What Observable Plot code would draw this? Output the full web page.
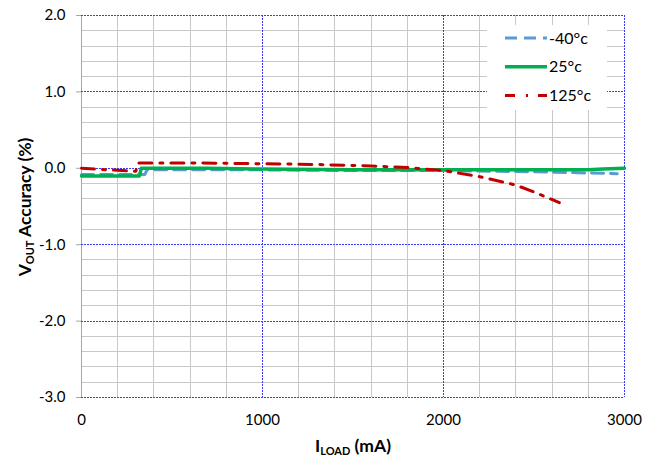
<!DOCTYPE html>
<html>
<head>
<meta charset="utf-8">
<script src="https://cdn.jsdelivr.net/npm/d3@7"></script>
<script src="https://cdn.jsdelivr.net/npm/@observablehq/plot@0.6"></script>
<style>
  html, body { margin: 0; padding: 0; background: #fff; }
  #chart { width: 652px; height: 459px; }
</style>
</head>
<body>
<div id="chart"></div>
<script>
// ---- data ----
const seriesNames = ["-40°c", "25°c", "125°c"];
const seriesColors = ["#5B9BD5", "#00B050", "#C00000"];
const xTicks = [0, 1000, 2000, 3000];
const yTicks = [-3, -2, -1, 0, 1, 2];

const m40Load = [0, 350, 362, 700, 1000, 1500, 2000, 2300, 2600, 2960];
const m40Acc  = [-0.08, -0.08, -0.02, -0.02, -0.02, -0.03, -0.03, -0.04, -0.05, -0.07];

const p25Load = [0, 320, 330, 700, 1000, 1500, 2000, 2500, 2800, 2880, 3000];
const p25Acc  = [-0.10, -0.10, 0.0, 0.0, -0.01, -0.02, -0.02, -0.02, -0.02, -0.01, 0.0];

const p125Load = [0, 150, 300, 312, 600, 1000, 1300, 1600, 1800, 2000, 2200, 2400, 2500, 2640];
const p125Acc  = [0.0, -0.02, -0.04, 0.07, 0.07, 0.06, 0.05, 0.03, 0.01, -0.03, -0.11, -0.22, -0.31, -0.45];

const toRows = (xs, ys, s) => xs.map((x, i) => ({x, y: ys[i], s}));
const rows40 = toRows(m40Load, m40Acc, seriesNames[0]);
const rows25 = toRows(p25Load, p25Acc, seriesNames[1]);
const rows125 = toRows(p125Load, p125Acc, seriesNames[2]);

// minor grid (excluding the major positions)
const minorX = d3.range(200, 3000, 200).filter(v => v % 1000 !== 0);
const minorY = d3.range(-3, 2.001, 0.2).map(v => +v.toFixed(1)).filter(v => !Number.isInteger(v));

const FONT = "Lato, 'Open Sans', sans-serif";

const chart = Plot.plot({
  width: 652,
  height: 459,
  marginLeft: 81,
  marginRight: 28,
  marginTop: 15,
  marginBottom: 62,
  style: { fontFamily: FONT, fontSize: "15px", color: "#000", background: "#fff" },
  x: { domain: [0, 3000], label: null },
  y: { domain: [-3, 2], label: null },
  marks: [
    Plot.ruleX(minorX, { stroke: "#c8c8c8", strokeWidth: 1, shapeRendering: "crispEdges" }),
    Plot.ruleY(minorY, { stroke: "#c8c8c8", strokeWidth: 1, shapeRendering: "crispEdges" }),
    Plot.ruleX([0], { stroke: "#a6a6a6", strokeWidth: 1, shapeRendering: "crispEdges" }),
    Plot.ruleX(xTicks.slice(1), { stroke: "#3a3aff", strokeWidth: 1, strokeDasharray: "2,1", shapeRendering: "crispEdges" }),
    Plot.ruleY(yTicks, { stroke: "#3a3aff", strokeWidth: 1, strokeDasharray: "2,1", shapeRendering: "crispEdges" }),
    Plot.axisY(yTicks, { tickSize: 5, tickPadding: 11, stroke: "#a6a6a6", tickFormat: d => d.toFixed(1), fontSize: 15 }),
    Plot.axisX(xTicks, { tickSize: 0, tickPadding: 17, tickFormat: d => String(d), fontSize: 15 }),
    Plot.line(rows40, { x: "x", y: "y", stroke: seriesColors[0], strokeWidth: 3, strokeDasharray: "12,7" }),
    Plot.line(rows25, { x: "x", y: "y", stroke: seriesColors[1], strokeWidth: 3.5 }),
    Plot.line(rows125, { x: "x", y: "y", stroke: seriesColors[2], strokeWidth: 3, strokeDasharray: "13,8,3,8" })
  ]
});

document.getElementById("chart").appendChild(chart);

// ---- axis titles with subscripts ----
const svg = d3.select(chart);
const yt = svg.append("text")
  .attr("transform", "translate(31,207) rotate(-90)")
  .attr("text-anchor", "middle")
  .attr("font-family", FONT).attr("font-size", 17.5).attr("font-weight", "bold").attr("fill", "#000");
yt.append("tspan").text("V");
yt.append("tspan").attr("font-size", 11).attr("dy", 3).text("OUT");
yt.append("tspan").attr("dy", -3).text(" Accuracy (%)");

const xt = svg.append("text")
  .attr("x", 353).attr("y", 452)
  .attr("text-anchor", "middle")
  .attr("font-family", FONT).attr("font-size", 17.5).attr("font-weight", "bold").attr("fill", "#000");
xt.append("tspan").text("I");
xt.append("tspan").attr("font-size", 11).attr("dy", 3).text("LOAD");
xt.append("tspan").attr("dy", -3).text(" (mA)");

// ---- legend ----
const lg = svg.append("g").attr("text-anchor", "start");
lg.append("rect").attr("x", 487).attr("y", 25).attr("width", 120).attr("height", 85).attr("fill", "#fff");
const dashes = ["12,7", null, "10,11,2,10"];
const widths = [3, 3.5, 3];
seriesNames.forEach((name, i) => {
  const yy = 38 + i * 28.7;
  const l = lg.append("line").attr("x1", 505).attr("x2", 547).attr("y1", yy).attr("y2", yy)
    .attr("stroke", seriesColors[i]).attr("stroke-width", widths[i]);
  if (dashes[i]) l.attr("stroke-dasharray", dashes[i]);
  lg.append("text").attr("x", 549).attr("y", yy).attr("dy", "0.35em")
    .attr("text-anchor", "start")
    .attr("font-family", FONT).attr("font-size", 16).attr("fill", "#000").text(name);
});
</script>
</body>
</html>
